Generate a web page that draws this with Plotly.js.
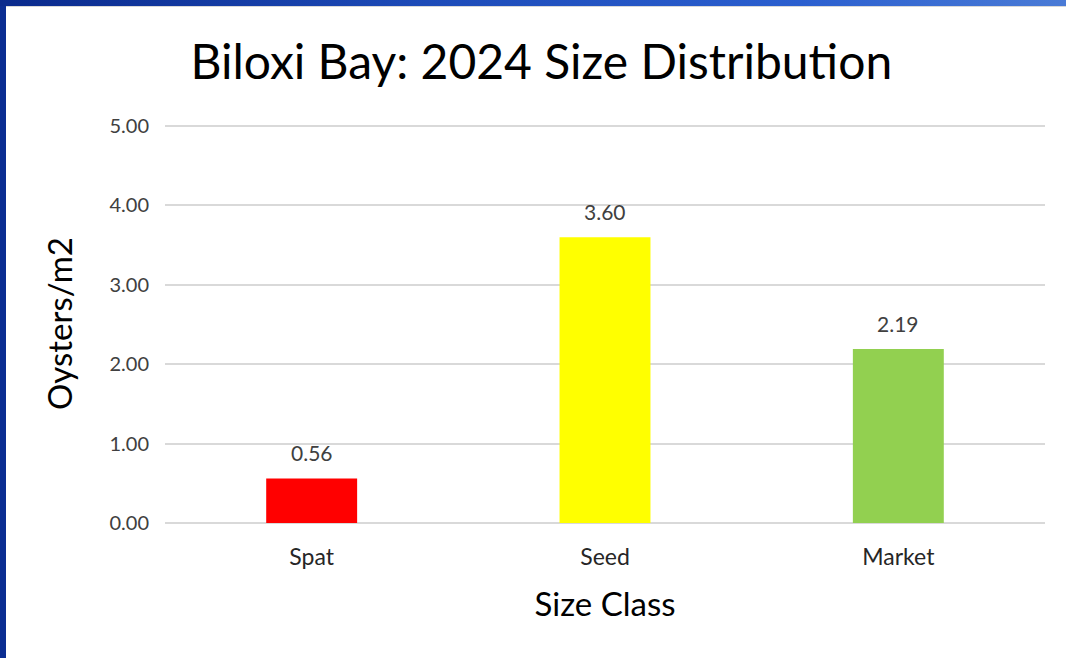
<!DOCTYPE html>
<html>
<head>
<meta charset="utf-8">
<script src="https://cdn.plot.ly/plotly-3.0.1.min.js"></script>
<style>
html, body { margin: 0; padding: 0; width: 1066px; height: 658px; overflow: hidden; }
body { background: linear-gradient(to right, #0a2a8c 0%, #1d4bb8 40%, #2b5fcf 75%, #4a7bd6 100%); position: relative; }
#frame { position: absolute; left: 0; top: 6px; width: 6px; height: 652px; background: #0b2d92; }
#chart { position: absolute; left: 6px; top: 6px; width: 1060px; height: 652px; background: white; border-top: 1px solid #d8d8d8; }
</style>
</head>
<body>
<div id="frame"></div>
<div id="chart"></div>
<script>
var categories = ['Spat', 'Seed', 'Market'];
var values = [0.56, 3.60, 2.19];
var barColors = ['#ff0000', '#ffff00', '#92d050'];

var data = [{
    type: 'bar',
    x: categories,
    y: values,
    marker: { color: barColors },
    hoverinfo: 'none'
}];

var labels = [];
for (let i = 0; i < categories.length; i++) {
    labels.push({
        x: categories[i],
        y: values[i],
        text: values[i].toFixed(2),
        showarrow: false,
        yshift: 26,
        font: { size: 21, color: '#404040' }
    });
}

var layout = {
    width: 1060,
    height: 651,
    margin: { l: 159, r: 21, t: 117, b: 135 },
    paper_bgcolor: 'white',
    plot_bgcolor: 'white',
    font: { family: 'Lato, "Open Sans", sans-serif', color: '#404040' },
    showlegend: false,
    bargap: 0.69,
    title: {
        text: 'Biloxi Bay: 2024 Size Distribution',
        font: { size: 48, color: '#000000' },
        x: 0.505,
        xanchor: 'center',
        y: 0.915,
        yanchor: 'middle'
    },
    xaxis: {
        title: { text: 'Size Class', font: { size: 33, color: '#000000' }, standoff: 23 },
        tickfont: { size: 23, color: '#262626' },
        ticklabelstandoff: 18,
        showgrid: false,
        showline: false,
        zeroline: false
    },
    yaxis: {
        title: { text: 'Oysters/m2', font: { size: 33, color: '#000000' }, standoff: 26 },
        range: [0, 5.025],
        tickvals: [0, 1, 2, 3, 4, 5],
        tickformat: '.2f',
        tickfont: { size: 20, color: '#404040' },
        ticklabelstandoff: 15,
        gridcolor: '#d9d9d9',
        gridwidth: 2,
        zeroline: true,
        zerolinecolor: '#d9d9d9',
        zerolinewidth: 2,
        showline: false
    },
    annotations: labels
};

Plotly.newPlot('chart', data, layout, { staticPlot: true, displayModeBar: false });
</script>
</body>
</html>
